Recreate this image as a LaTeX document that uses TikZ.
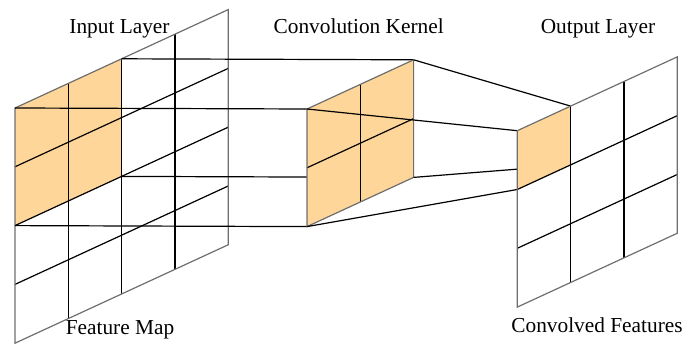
\documentclass[tikz,border=0pt]{standalone}
\usepackage{fontspec}
\setmainfont{Liberation Serif}
\definecolor{patch}{RGB}{255,214,153}
\definecolor{rim}{RGB}{110,110,110}
\begin{document}
\begin{tikzpicture}[x=0.75pt,y=-0.75pt,
  inner/.style={black,line width=0.9pt},
  border/.style={rim,line width=0.9pt,line join=miter},
  link/.style={black,line width=0.9pt},
  label/.style={font=\fontsize{16}{19}\selectfont,anchor=base,inner sep=0pt}]
\useasboundingbox (0,0) rectangle (683,345);
\def\cw{53.3}\def\ch{58.8}\def\cs{24.6}
% corner coordinates
\foreach \i in {0,...,4}{\foreach \j in {0,...,4}{
  \coordinate (in-\i-\j) at ({15+\i*\cw},{108+\j*\ch-\i*\cs});}}
\foreach \i in {0,...,2}{\foreach \j in {0,...,2}{
  \coordinate (k-\i-\j) at ({307+\i*\cw},{109+\j*\ch-\i*\cs});}}
\foreach \i in {0,...,3}{\foreach \j in {0,...,3}{
  \coordinate (out-\i-\j) at ({517.3+\i*\cw},{130.7+\j*\ch-\i*\cs});}}
% input layer
\fill[patch] (in-0-0) -- (in-2-0) -- (in-2-2) -- (in-0-2) -- cycle;
\foreach \i in {1,2,3}{\draw[inner] (in-\i-0) -- (in-\i-4);}
\foreach \j in {1,2,3}{\draw[inner] (in-0-\j) -- (in-4-\j);}
\draw[border] (in-0-0) -- (in-4-0) -- (in-4-4) -- (in-0-4) -- cycle;
% input -> kernel
\draw[link] (in-0-0) -- (k-0-0);
\draw[link] (in-2-0) -- (k-2-0);
\draw[link] (in-2-2) -- (k-2-2);
\draw[link] (in-0-2) -- (k-0-2);
% kernel
\fill[patch] (k-0-0) -- (k-2-0) -- (k-2-2) -- (k-0-2) -- cycle;
\draw[inner] (k-1-0) -- (k-1-2);
\draw[inner] (k-0-1) -- (k-2-1);
\draw[border] (k-0-0) -- (k-2-0) -- (k-2-2) -- (k-0-2) -- cycle;
% kernel -> output
\draw[link] (k-0-0) -- (out-0-0);
\draw[link] (k-2-0) -- (out-1-0);
\draw[link] (k-2-2) -- (out-1-1);
\draw[link] (k-0-2) -- (out-0-1);
% output layer
\fill[patch] (out-0-0) -- (out-1-0) -- (out-1-1) -- (out-0-1) -- cycle;
\foreach \i in {1,2}{\draw[inner] (out-\i-0) -- (out-\i-3);}
\foreach \j in {1,2}{\draw[inner] (out-0-\j) -- (out-3-\j);}
\draw[border] (out-0-0) -- (out-3-0) -- (out-3-3) -- (out-0-3) -- cycle;
% labels
\node[label] (tin) at (119.5,33.3) {Input Layer};
\node[label] (tker) at (358.7,33.3) {Convolution Kernel};
\node[label] (tout) at (598,33.3) {Output Layer};
\node[label] (tfm) at (120,334.3) {Feature Map};
\node[label] (tcf) at (597,333) {Convolved Features};
\end{tikzpicture}
\end{document}
